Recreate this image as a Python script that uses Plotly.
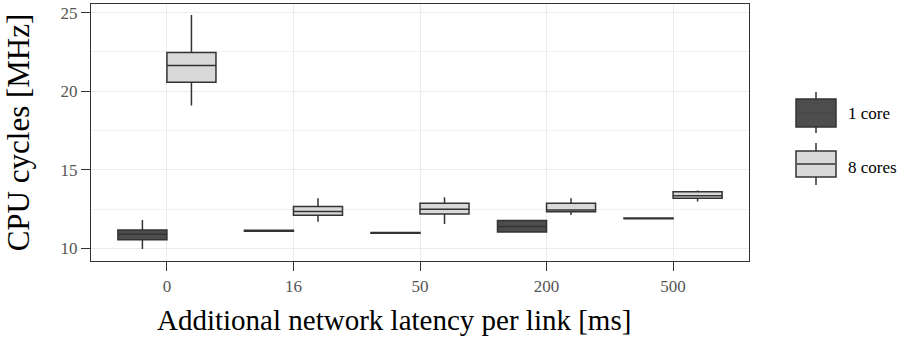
import plotly.graph_objects as go

# Additional network latency per link (ms), as category labels
latency = ["0", "16", "50", "200", "500"]

# Box statistics of CPU cycles (MHz), 1 core
one_q1 = [10.55, 11.10, 10.96, 11.05, 11.89]
one_med = [10.90, 11.13, 10.99, 11.40, 11.92]
one_q3 = [11.18, 11.16, 11.02, 11.77, 11.94]
one_lo = [9.97, 11.08, 10.93, 11.05, 11.87]
one_hi = [11.81, 11.18, 11.05, 11.77, 11.96]

# Box statistics of CPU cycles (MHz), 8 cores
eight_q1 = [20.57, 12.11, 12.19, 12.34, 13.19]
eight_med = [21.63, 12.35, 12.50, 12.45, 13.35]
eight_q3 = [22.46, 12.66, 12.88, 12.88, 13.60]
eight_lo = [19.10, 11.70, 11.56, 12.13, 12.98]
eight_hi = [24.85, 13.19, 13.26, 13.19, 13.68]

series_names = ["1 core", "8 cores"]
fill_colors = ["#4d4d4d", "#d9d9d9"]
median_colors = ["#474747", "#333333"]
edge_color = "#333333"
serif = "Liberation Serif, serif"

fig = go.Figure()
stats = [
    (one_q1, one_med, one_q3, one_lo, one_hi),
    (eight_q1, eight_med, eight_q3, eight_lo, eight_hi),
]
for name, fill, (q1, med, q3, lo, hi) in zip(series_names, fill_colors, stats):
    fig.add_trace(go.Box(
        name=name, x=latency, q1=q1, median=med, q3=q3,
        lowerfence=lo, upperfence=hi,
        fillcolor=fill, line=dict(color=edge_color, width=1.5),
        whiskerwidth=0, showlegend=False, hoverinfo="skip",
    ))

# Panel frame and margins in pixels, used for the hand-drawn legend keys
L, R, T, B = 91, 749, 4, 261
W, H = 911, 342


def px(x):
    return (x - L) / (R - L)


def py(y):
    return (B - y) / (B - T)


shapes = []
annotations = []
legend_keys = [
    # (fill, whisker top, box top, box bottom, whisker bottom, label y)
    (fill_colors[0], 92, 99, 127, 133, 113),
    (fill_colors[1], 143, 151, 177, 185, 167),
]
for (fill, wt, bt, bb, wb, ty), label, mc in zip(legend_keys, series_names, median_colors):
    shapes.append(dict(type="line", xref="paper", yref="paper",
                       x0=px(816), x1=px(816), y0=py(wt), y1=py(wb),
                       line=dict(color=edge_color, width=1.5)))
    shapes.append(dict(type="rect", xref="paper", yref="paper",
                       x0=px(796), x1=px(836), y0=py(bb), y1=py(bt),
                       fillcolor=fill, line=dict(color=edge_color, width=1.5)))
    shapes.append(dict(type="line", xref="paper", yref="paper",
                       x0=px(797), x1=px(835), y0=py((bt + bb) / 2), y1=py((bt + bb) / 2),
                       line=dict(color=mc, width=1.5)))
    annotations.append(dict(text=label, xref="paper", yref="paper",
                            x=px(846), y=py(ty), xanchor="left", yanchor="middle",
                            showarrow=False,
                            font=dict(family=serif, size=17, color="#000000")))

# x-axis title
annotations.append(dict(text="Additional network latency per link [ms]",
                        xref="paper", yref="paper", x=px(394), y=py(302),
                        xanchor="center", yanchor="top", showarrow=False,
                        font=dict(family=serif, size=29, color="#000000")))

fig.update_layout(
    width=W, height=H,
    margin=dict(l=L, r=W - R, t=T, b=H - B),
    paper_bgcolor="white", plot_bgcolor="white",
    boxmode="group", boxgap=0.225, boxgroupgap=0,
    shapes=shapes, annotations=annotations,
    font=dict(family=serif),
)
fig.update_xaxes(
    type="category", range=[-0.6, 4.6],
    showgrid=True, gridcolor="#ebebeb", gridwidth=1.3,
    showline=True, mirror=True, linecolor=edge_color, linewidth=1.3,
    ticks="outside", ticklen=9, tickwidth=1.3, tickcolor=edge_color,
    tickfont=dict(family=serif, size=17, color="#555555"),
    zeroline=False,
)
fig.update_yaxes(
    range=[9.2, 25.55], tickvals=[10, 15, 20, 25],
    showgrid=True, gridcolor="#ebebeb", gridwidth=1.3,
    minor=dict(tickvals=[12.5, 17.5, 22.5], showgrid=True,
               gridcolor="#f2f2f2", gridwidth=0.7),
    showline=True, mirror=True, linecolor=edge_color, linewidth=1.3,
    ticks="outside", ticklen=9, tickwidth=1.3, tickcolor=edge_color,
    tickfont=dict(family=serif, size=17, color="#555555"),
    title=dict(text="CPU cycles [MHz]",
               font=dict(family=serif, size=31, color="#000000"), standoff=21),
    zeroline=False,
)

fig.write_html("out.html")
